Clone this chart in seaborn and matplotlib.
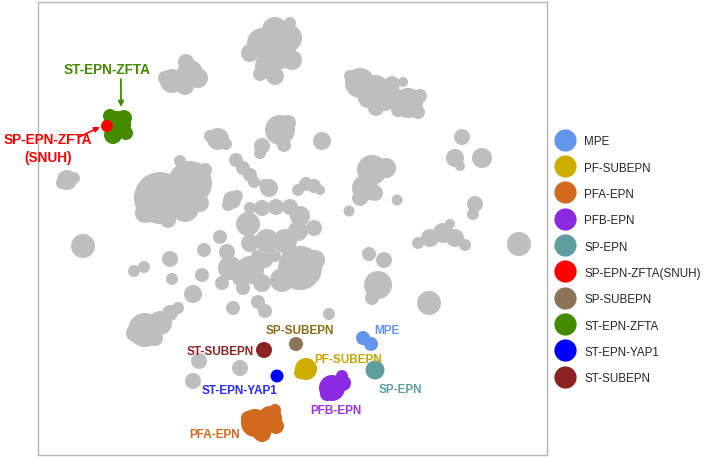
"""
plot.py

t-SNE style overview of ependymoma reference clusters, with the
SNUH sample highlighted inside the ST-EPN-ZFTA cluster.
"""

import pandas as pd
import matplotlib
matplotlib.use("Agg")
import matplotlib.pyplot as plt
from matplotlib.lines import Line2D
import seaborn as sns

# ===== DATA =====
# each blob is a sub-cluster: centre (x, y) in layout units and its spread (radius)
grey_x = [275, 288, 262, 280, 268, 250, 292, 275, 260, 290,
          172, 190, 198, 185, 186, 165,
          360, 375, 385, 376, 392, 403, 408, 420, 418, 398, 368, 350, 395,
          67, 62, 74,
          160, 190, 185, 205, 180, 168, 200, 145,
          218, 210, 226,
          280, 288, 262, 260, 284,
          322,
          236, 243, 250, 254,
          232, 228, 237,
          269, 264,
          298, 306, 314, 320,
          248, 262, 276, 290, 300, 298, 285, 267, 250, 314, 250,
          300, 282, 315, 290,
          230, 250, 262, 243, 222, 265, 220, 227, 240, 257, 275,
          204, 202, 170, 172, 193, 134, 144, 233, 258, 265, 329, 349, 83,
          372, 386, 365, 360, 375, 397,
          369, 384, 378, 372,
          418, 430, 443, 455, 465, 450,
          519, 429, 475, 473, 462, 455, 460, 482,
          145, 135, 160, 170, 178, 155,
          199, 240, 193]
grey_y = [32, 40, 45, 55, 68, 55, 62, 78, 76, 25,
          83, 75, 80, 88, 64, 80,
          85, 92, 103, 110, 86, 84, 105, 98, 114, 112, 100, 78, 98,
          182, 185, 180,
          200, 185, 210, 172, 163, 222, 205, 215,
          141, 138, 146,
          132, 125, 148, 155, 147,
          143,
          162, 170, 177, 184,
          202, 207, 198,
          190, 186,
          192, 186, 188, 192,
          226, 210, 209, 209, 218, 233, 243, 243, 245, 230, 210,
          270, 282, 262, 255,
          270, 272, 285, 290, 285, 262, 239, 254, 280, 258, 258,
          252, 277, 261, 281, 296, 273, 269, 310, 304, 313, 316, 213, 248,
          172, 170, 190, 200, 195, 202,
          256, 262, 287, 300,
          245, 240, 235, 240, 247, 226,
          246, 305, 206, 216, 139, 160, 168, 160,
          332, 335, 325, 315, 310, 340,
          363, 370, 383]
grey_r = [13, 14, 15, 16, 13, 9, 10, 9, 7, 6,
          12, 13, 10, 9, 8, 7,
          15, 15, 10, 8, 8, 5, 15, 7, 7, 7, 10, 6, 8,
          10, 6, 6,
          26, 22, 14, 7, 6, 8, 9, 10,
          11, 6, 6,
          15, 8, 8, 6, 7,
          9,
          7, 7, 7, 6,
          9, 6, 6,
          9, 5,
          6, 7, 7, 5,
          12, 8, 8, 8, 10, 10, 12, 12, 9, 8, 6,
          22, 12, 10, 8,
          12, 14, 9, 7, 7, 8, 7, 8, 8, 6, 6,
          7, 7, 8, 6, 9, 6, 6, 7, 7, 7, 6, 5.5, 12,
          15, 10, 13, 8, 8, 5.5,
          7, 8, 14, 7,
          6, 9, 10, 9, 6, 5,
          12, 12, 8, 6, 8, 9, 5, 10,
          17, 9, 12, 8, 6, 8,
          8, 8, 8]

subtype_group = ["ST-EPN-ZFTA"] * 5 + ["ST-SUBEPN", "ST-EPN-YAP1"] + ["PFA-EPN"] * 6 + \
                ["SP-SUBEPN"] + ["PF-SUBEPN"] * 2 + ["PFB-EPN"] * 4 + ["MPE"] * 2 + \
                ["SP-EPN", "SP-EPN-ZFTA(SNUH)"]
subtype_x = [117, 113, 124, 126, 110, 264, 277, 255, 270, 276, 262, 248, 275,
             296, 306, 300, 332, 343, 342, 327, 363, 371, 375, 107]
subtype_y = [127, 137, 120, 135, 118, 352, 378, 425, 420, 428, 435, 420, 412,
             346, 371, 375, 390, 385, 378, 396, 340, 346, 372, 128]
subtype_r = [14, 9, 8, 7, 7, 8, 6.5, 14, 12, 8, 9, 7, 6,
             7, 11, 6, 13, 8, 6, 7, 7, 7, 9.5, 6]

legend_order = ["MPE", "PF-SUBEPN", "PFA-EPN", "PFB-EPN", "SP-EPN",
                "SP-EPN-ZFTA(SNUH)", "SP-SUBEPN", "ST-EPN-ZFTA", "ST-EPN-YAP1", "ST-SUBEPN"]
legend_colors = ["#6495ED", "#CDAD00", "#D2691E", "#8A2BE2", "#5F9EA0",
                 "#FF0000", "#8B7355", "#458B00", "#0000FF", "#8B2323"]

# cluster labels placed next to their clusters
label_text = ["ST-SUBEPN", "ST-EPN-YAP1", "PFA-EPN", "SP-SUBEPN", "MPE",
              "PF-SUBEPN", "SP-EPN", "PFB-EPN"]
label_x = [220, 240, 215, 300, 387, 348, 400, 336]
label_y = [353, 392, 436, 332, 332, 361, 391, 412]
label_colors = ["#8B2323", "#2828FF", "#D2691E", "#8B6914", "#6495ED",
                "#C9A400", "#5F9EA0", "#9A32EA"]


# ---------------------------------------------------------------------------
def main():
    sns.set_style("white")
    plt.rcParams["font.family"] = ["Liberation Sans", "DejaVu Sans"]

    grey_df = pd.DataFrame({"x": grey_x, "y": grey_y, "r": grey_r})
    sub_df = pd.DataFrame({"x": subtype_x, "y": subtype_y, "r": subtype_r,
                           "group": subtype_group})

    fig = plt.figure(figsize=(7.09, 4.60), dpi=100)
    ax = fig.add_axes([38 / 709, 4 / 460, 509 / 709, 453 / 460])
    ax.set_xlim(38, 547)
    ax.set_ylim(457, 4)

    # radius (data units) -> marker area in points^2
    bbox = ax.get_window_extent()
    pt_per_unit = bbox.width / 509 * 72 / fig.dpi

    sns.scatterplot(data=grey_df, x="x", y="y", ax=ax, color="#BEBEBE",
                    s=(2 * grey_df["r"] * pt_per_unit) ** 2, linewidth=0, legend=False)
    palette = dict(zip(legend_order, legend_colors))
    sns.scatterplot(data=sub_df, x="x", y="y", hue="group", hue_order=legend_order,
                    palette=palette, ax=ax, s=(2 * sub_df["r"] * pt_per_unit) ** 2,
                    linewidth=0, legend=False)

    # labels (bottom ones a bit smaller than the highlighted ZFTA labels)
    big_size = 9.8
    small_size = 8.5
    for txt, lx, ly, c in zip(label_text, label_x, label_y, label_colors):
        ax.text(lx, ly, txt, color=c, fontsize=small_size, fontweight="bold",
                ha="center", va="center")

    ax.annotate("ST-EPN-ZFTA", xy=(121, 109), xytext=(107, 71), color="#458B00",
                fontsize=big_size, fontweight="bold", ha="center", va="center",
                arrowprops=dict(arrowstyle="-|>", color="#458B00", lw=1.3,
                                mutation_scale=8, shrinkA=0, shrinkB=0,
                                relpos=(0.66, 0.0)))
    ax.annotate("", xy=(100, 129), xytext=(79, 139),
                arrowprops=dict(arrowstyle="-|>", color="#FF0000", lw=1.2,
                                mutation_scale=8, shrinkA=0, shrinkB=0))
    ax.text(48, 150, "SP-EPN-ZFTA\n(SNUH)", color="#FF0000", fontsize=big_size,
            fontweight="bold", ha="center", va="center", linespacing=1.3,
            clip_on=False)

    ax.set_xticks([])
    ax.set_yticks([])
    ax.set_xlabel("")
    ax.set_ylabel("")
    for sp in ax.spines.values():
        sp.set_color("#B4B4B4")
        sp.set_linewidth(1.0)

    handles = [Line2D([], [], marker="o", linestyle="", markersize=16,
                      markerfacecolor=c, markeredgewidth=0) for c in legend_colors]
    fig.legend(handles, legend_order, loc="center left",
               bbox_to_anchor=(550 / 709, 1 - 260.5 / 460), frameon=False,
               fontsize=8.4, borderaxespad=0, handleheight=1.2,
               labelspacing=1.15, handletextpad=0.75, borderpad=0.4,
               handlelength=1.8)

    fig.savefig("out.png", dpi=100)


if __name__ == "__main__":
    main()
